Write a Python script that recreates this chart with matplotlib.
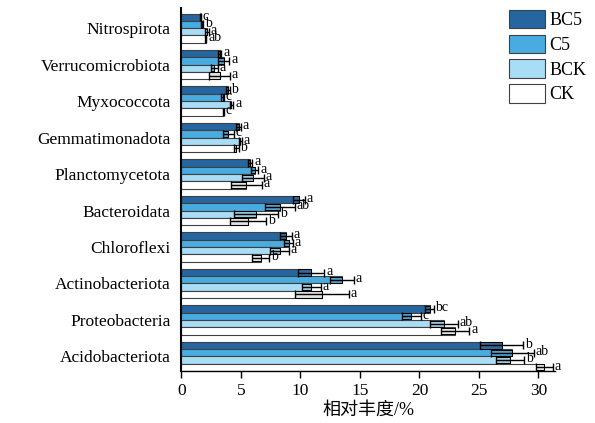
import numpy as np
import matplotlib.pyplot as plt

plt.rcParams['font.family'] = ['Liberation Serif', 'Noto Sans CJK SC']

phyla = ['Nitrospirota', 'Verrucomicrobiota', 'Myxococcota', 'Gemmatimonadota',
         'Planctomycetota', 'Bacteroidata', 'Chloroflexi', 'Actinobacteriota',
         'Proteobacteria', 'Acidobacteriota']
groups = ['BC5', 'C5', 'BCK', 'CK']

bc5 = [1.6, 3.2, 3.9, 4.8, 5.75, 9.85, 8.75, 10.9, 20.85, 26.9]
c5 = [1.75, 3.55, 3.45, 3.95, 6.15, 8.25, 9.0, 13.5, 19.3, 27.8]
bck = [2.15, 2.75, 4.2, 4.95, 6.0, 6.3, 8.25, 10.9, 22.05, 27.6]
ck = [2.05, 3.2, 3.5, 4.6, 5.45, 5.6, 6.65, 11.8, 23.0, 30.5]

bc5_err = [0.05, 0.15, 0.15, 0.2, 0.2, 0.5, 0.5, 1.1, 0.35, 1.8]
c5_err = [0.08, 0.47, 0.1, 0.45, 0.3, 1.27, 0.35, 1.0, 0.8, 1.8]
bck_err = [0.15, 0.3, 0.15, 0.15, 0.95, 1.85, 0.8, 0.8, 1.15, 1.2]
ck_err = [0.05, 0.85, 0.05, 0.2, 1.3, 1.5, 0.7, 2.25, 1.2, 0.7]

bc5_sig = ['c', 'a', 'b', 'a', 'a', 'a', 'a', 'a', 'bc', 'b']
c5_sig = ['b', 'a', 'c', 'c', 'a', 'ab', 'a', 'a', 'c', 'ab']
bck_sig = ['a', 'a', 'a', 'a', 'a', 'b', 'a', 'a', 'ab', 'b']
ck_sig = ['ab', 'a', 'c', 'b', 'a', 'b', 'b', 'a', 'a', 'a']

vals = [bc5, c5, bck, ck]
errs = [bc5_err, c5_err, bck_err, ck_err]
sigs = [bc5_sig, c5_sig, bck_sig, ck_sig]
colors = ['#2566a0', '#48ace0', '#a9dcf5', '#ffffff']

fig = plt.figure(figsize=(5.95, 4.23), dpi=100)
ax = fig.add_axes([0.305, 0.122, 0.628, 0.859])

y = np.arange(len(phyla))
h = 0.2
offs = [-0.3, -0.1, 0.1, 0.3]
for k in range(4):
    v = np.array(vals[k])
    e = np.array(errs[k])
    yy = y + offs[k]
    ax.barh(yy, v, height=h, color=colors[k], edgecolor='#404040', linewidth=0.8,
            label=groups[k], zorder=2)
    # shaded box over the lower half of the error range
    ax.barh(yy, e, left=v - e, height=h * 0.85, color=(0.45, 0.45, 0.45, 0.2),
            edgecolor='black', linewidth=0.7, zorder=3)
    ax.errorbar(v, yy, xerr=e, fmt='none', ecolor='black', elinewidth=1,
                capsize=3, capthick=1, zorder=4)
    for i in range(len(phyla)):
        ax.text(v[i] + e[i] + 0.15, yy[i] - 0.03, sigs[k][i], fontsize=10,
                va='center', ha='left', zorder=5)

ax.set_ylim(9.41, -0.55)
ax.set_xlim(0, 31.4)
ax.set_yticks(y)
ax.set_yticklabels(phyla, fontsize=12.5)
ax.tick_params(axis='y', length=0, pad=8)
ax.set_xticks(np.arange(0, 31, 5))
ax.tick_params(axis='x', labelsize=12.5, length=5, width=1, direction='out')
ax.set_xlabel('相对丰度/%', fontsize=13, labelpad=2)
ax.spines['top'].set_visible(False)
ax.spines['right'].set_visible(False)
ax.spines['left'].set_linewidth(1.5)
ax.spines['bottom'].set_linewidth(1)

leg = ax.legend(loc='upper left', bbox_to_anchor=(0.872, 1.0), frameon=False,
                fontsize=13, handlelength=2.0, handleheight=1.2,
                handletextpad=0.25, labelspacing=0.3, borderaxespad=0,
                borderpad=0.1)
for p in leg.get_patches():
    p.set_edgecolor('#404040')

fig.savefig('out.png', dpi=100)
